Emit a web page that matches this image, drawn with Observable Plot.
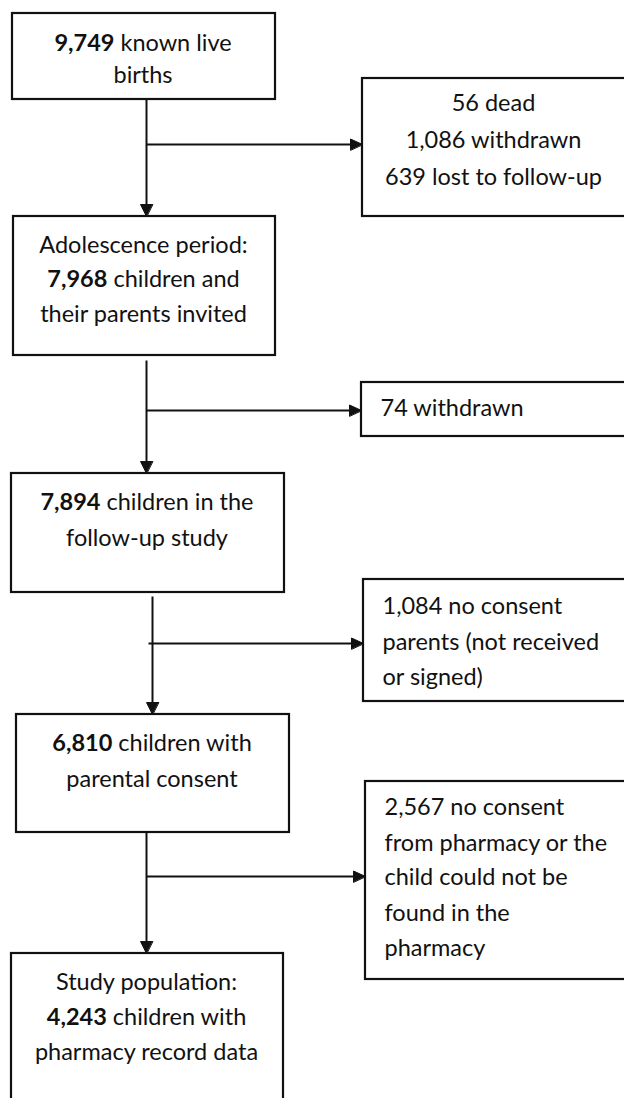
<!DOCTYPE html>
<html><head><meta charset="utf-8">
<script src="https://cdn.jsdelivr.net/npm/d3@7"></script>
<script src="https://cdn.jsdelivr.net/npm/@observablehq/plot@0.6"></script>
<style>html,body{margin:0;padding:0;background:#fff;overflow:hidden}</style>
</head><body><div id="chart"></div>
<script>
// ---- Data (text content of the flow chart) ----
const stageCounts = ["9,749", "7,968", "7,894", "6,810", "4,243"];
const stageLines = [
  ["{n} known live", "births"],
  ["Adolescence period:", "{n} children and", "their parents invited"],
  ["{n} children in the", "follow-up study"],
  ["{n} children with", "parental consent"],
  ["Study population:", "{n} children with", "pharmacy record data"]
];
const exclusionLines = [
  ["56 dead", "1,086 withdrawn", "639 lost to follow-up"],
  ["74 withdrawn"],
  ["1,084 no consent", "parents (not received", "or signed)"],
  ["2,567 no consent", "from pharmacy or the", "child could not be", "found in the", "pharmacy"]
];

// ---- Layout (geometry of the diagram) ----
const stageBoxes = [
  {x1: 12, x2: 275, y1: 13, y2: 99, lineY: [43, 75]},
  {x1: 13, x2: 275, y1: 216, y2: 355, lineY: [245, 279, 314]},
  {x1: 11, x2: 284, y1: 473, y2: 592, lineY: [502, 538]},
  {x1: 16, x2: 289, y1: 714, y2: 832, lineY: [743, 779]},
  {x1: 11, x2: 283, y1: 953, y2: 1120, lineY: [982, 1017, 1052]}
];
const exclusionBoxes = [
  {x1: 362, x2: 640, y1: 78, y2: 216, anchor: "middle", tx: 493, lineY: [103, 140, 177]},
  {x1: 361, x2: 640, y1: 382, y2: 436, anchor: "start", tx: 380, lineY: [408]},
  {x1: 363, x2: 640, y1: 579, y2: 701, anchor: "start", tx: 382, lineY: [606, 642, 677]},
  {x1: 365, x2: 640, y1: 781, y2: 979, anchor: "start", tx: 384, lineY: [807, 843, 877, 913, 948]}
];
const connectors = [
  {x: 146, y1: 99, y2: 216, by: 144, bx1: 146, bx2: 362},
  {x: 146, y1: 360, y2: 473, by: 410, bx1: 146, bx2: 361},
  {x: 152, y1: 596, y2: 714, by: 643, bx1: 148, bx2: 363},
  {x: 146, y1: 832, y2: 953, by: 876, bx1: 146, bx2: 365}
];
const FONT = "Lato, 'Open Sans', sans-serif";
const FS = 23.5;
const HEAD = 12, HALF = 6;

// ---- Build mark tables ----
const boldMap = new Map();
const stageText = [];
stageLines.forEach((lines, i) => {
  const b = stageBoxes[i];
  lines.forEach((l, j) => {
    const t = l.replace("{n}", stageCounts[i]);
    if (l.includes("{n}")) boldMap.set(t, stageCounts[i]);
    stageText.push({x: (b.x1 + b.x2) / 2 - 1, y: b.lineY[j], text: t});
  });
});
const exclText = [];
exclusionLines.forEach((lines, i) => {
  const b = exclusionBoxes[i];
  lines.forEach((l, j) => exclText.push({x: b.tx, y: b.lineY[j], text: l, anchor: b.anchor}));
});
const boxes = [...stageBoxes, ...exclusionBoxes];
const segments = [];
const heads = [];
connectors.forEach((c, k) => {
  segments.push({x1: c.x, y1: c.y1, x2: c.x, y2: c.y2 - HEAD + 1});
  segments.push({x1: c.bx1, y1: c.by, x2: c.bx2 - HEAD + 1, y2: c.by});
  heads.push({id: `v${k}`, x: c.x, y: c.y2}, {id: `v${k}`, x: c.x - HALF, y: c.y2 - HEAD}, {id: `v${k}`, x: c.x + HALF, y: c.y2 - HEAD});
  heads.push({id: `h${k}`, x: c.bx2, y: c.by}, {id: `h${k}`, x: c.bx2 - HEAD, y: c.by - 5.5}, {id: `h${k}`, x: c.bx2 - HEAD, y: c.by + 5.5});
});

const chart = Plot.plot({
  width: 624, height: 1098,
  margin: 0,
  x: {domain: [0, 624], range: [0, 624], axis: null},
  y: {domain: [0, 1098], range: [0, 1098], axis: null},
  style: {background: "#fff", fontFamily: FONT},
  marks: [
    Plot.rect(boxes, {x1: "x1", x2: "x2", y1: "y1", y2: "y2", fill: "white", stroke: "#111", strokeWidth: 2.2}),
    Plot.link(segments, {x1: "x1", y1: "y1", x2: "x2", y2: "y2", stroke: "#111", strokeWidth: 2}),
    Plot.line(heads, {x: "x", y: "y", z: "id", fill: "#111", stroke: "#111", strokeWidth: 1, curve: "linear-closed"}),
    Plot.text(stageText, {x: "x", y: "y", text: "text", textAnchor: "middle", fontSize: FS, fill: "#111", fontFamily: FONT}),
    Plot.text(exclText.filter(d => d.anchor === "middle"), {x: "x", y: "y", text: "text", textAnchor: "middle", fontSize: FS, fill: "#111", fontFamily: FONT}),
    Plot.text(exclText.filter(d => d.anchor === "start"), {x: "x", y: "y", text: "text", textAnchor: "start", fontSize: FS, fill: "#111", fontFamily: FONT})
  ]
});

// Bold the leading counts in the main-stage boxes
chart.querySelectorAll("text").forEach(el => {
  const t = el.textContent;
  if (boldMap.has(t)) {
    const n = boldMap.get(t);
    el.textContent = "";
    const b = document.createElementNS("http://www.w3.org/2000/svg", "tspan");
    b.setAttribute("font-weight", "bold");
    b.textContent = n;
    el.appendChild(b);
    el.appendChild(document.createTextNode(t.slice(n.length)));
  }
});
document.getElementById("chart").appendChild(chart);
</script>
</body></html>
